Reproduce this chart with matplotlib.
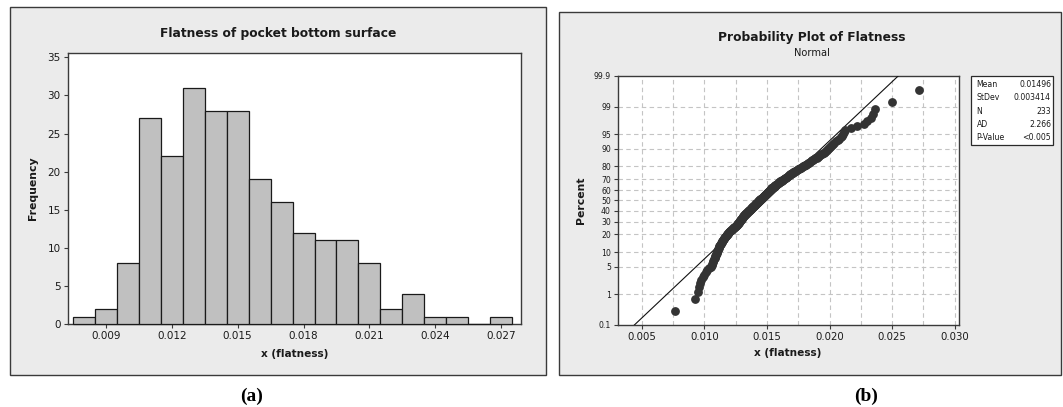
import numpy as np
import matplotlib
matplotlib.use("Agg")
import matplotlib.pyplot as plt
from matplotlib.patches import Rectangle
from matplotlib.ticker import FixedLocator, MultipleLocator
from statistics import NormalDist

# ---------------- data ----------------
# Histogram (a): bin centres and frequencies
bin_centers = [0.008, 0.009, 0.010, 0.011, 0.012, 0.013, 0.014, 0.015, 0.016, 0.017,
               0.018, 0.019, 0.020, 0.021, 0.022, 0.023, 0.024, 0.025, 0.026, 0.027]
frequencies = [1, 2, 8, 27, 22, 31, 28, 28, 19, 16, 12, 11, 11, 8, 2, 4, 1, 1, 0, 1]
bin_width = 0.001
hist_xticks = [0.009, 0.012, 0.015, 0.018, 0.021, 0.024, 0.027]
hist_yticks = [0, 5, 10, 15, 20, 25, 30, 35]

# Probability plot (b): flatness values (sorted)
flatness = [
    0.00764,
    0.00927, 0.00946,
    0.00955, 0.00962, 0.00975, 0.00988, 0.00998, 0.01012, 0.01025, 0.01038,
    0.01052, 0.01058, 0.01064, 0.01069, 0.01073, 0.01078, 0.01082, 0.01086, 0.01089,
    0.01093, 0.01096, 0.01099, 0.01102, 0.01105, 0.01108, 0.01111, 0.01114, 0.01117,
    0.01120, 0.01124, 0.01127, 0.01131, 0.01134, 0.01138, 0.01141, 0.01145, 0.01148,
    0.01152, 0.01156, 0.01160, 0.01164, 0.01168, 0.01172, 0.01176, 0.01180, 0.01184,
    0.01188, 0.01192, 0.01196, 0.01200, 0.01204, 0.01209, 0.01214, 0.01219, 0.01224,
    0.01229, 0.01234, 0.01239, 0.01245,
    0.01252, 0.01255, 0.01258, 0.01261, 0.01264, 0.01267, 0.01270, 0.01273, 0.01276,
    0.01279, 0.01282, 0.01285, 0.01288, 0.01291, 0.01294, 0.01297, 0.01300, 0.01303,
    0.01306, 0.01309, 0.01312, 0.01315, 0.01318, 0.01321, 0.01324, 0.01327, 0.01330,
    0.01334, 0.01338, 0.01342, 0.01346,
    0.01352, 0.01355, 0.01359, 0.01362, 0.01366, 0.01369, 0.01373, 0.01376, 0.01380,
    0.01383, 0.01387, 0.01390, 0.01394, 0.01397, 0.01401, 0.01404, 0.01408, 0.01411,
    0.01415, 0.01418, 0.01422, 0.01425, 0.01429, 0.01432, 0.01436, 0.01439, 0.01443,
    0.01447,
    0.01452, 0.01455, 0.01459, 0.01462, 0.01466, 0.01469, 0.01473, 0.01476, 0.01480,
    0.01483, 0.01487, 0.01490, 0.01494, 0.01497, 0.01501, 0.01504, 0.01508, 0.01511,
    0.01515, 0.01518, 0.01522, 0.01525, 0.01529, 0.01532, 0.01536, 0.01540, 0.01544,
    0.01548,
    0.01553, 0.01558, 0.01563, 0.01568, 0.01573, 0.01578, 0.01583, 0.01588, 0.01593,
    0.01598, 0.01603, 0.01608, 0.01613, 0.01618, 0.01623, 0.01628, 0.01634, 0.01640,
    0.01646,
    0.01652, 0.01658, 0.01664, 0.01670, 0.01676, 0.01682, 0.01688, 0.01694, 0.01700,
    0.01706, 0.01712, 0.01718, 0.01724, 0.01731, 0.01738, 0.01745,
    0.01753, 0.01761, 0.01769, 0.01777, 0.01785, 0.01793, 0.01801, 0.01809, 0.01817,
    0.01825, 0.01833, 0.01842,
    0.01852, 0.01861, 0.01870, 0.01879, 0.01888, 0.01897, 0.01906, 0.01915, 0.01924,
    0.01933, 0.01942,
    0.01953, 0.01961, 0.01969, 0.01977, 0.01985, 0.01993, 0.02001, 0.02009, 0.02017,
    0.02026, 0.02036,
    0.02052, 0.02064, 0.02076, 0.02088, 0.02098, 0.02108, 0.02116, 0.02124,
    0.02168, 0.02219,
    0.02276, 0.02302, 0.02329, 0.02348,
    0.02361,
    0.02502,
    0.02714,
]
fit_mean = 0.01496
fit_stdev = 0.003414
stat_labels = ["Mean", "StDev", "N", "AD", "P-Value"]
stat_values = ["0.01496", "0.003414", "233", "2.266", "<0.005"]
prob_xticks = [0.005, 0.010, 0.015, 0.020, 0.025, 0.030]
prob_yticks = [0.1, 1, 5, 10, 20, 30, 40, 50, 60, 70, 80, 90, 95, 99, 99.9]
prob_yticklabels = ["0.1", "1", "5", "10", "20", "30", "40", "50", "60", "70",
                    "80", "90", "95", "99", "99.9"]

# ---------------- figure ----------------
W, H = 1063, 407
plt.rcParams['font.family'] = ['DejaVu Sans']
fig = plt.figure(figsize=(W / 100, H / 100), dpi=100)
fig.patch.set_facecolor('white')

def fx(x):
    return x / W

def fy(y):
    return 1 - y / H

def frame(x0, y0, x1, y1, fc, ec='#3a3a3a', lw=1.0, z=-5):
    r = Rectangle((fx(x0), fy(y1)), fx(x1) - fx(x0), fy(y0) - fy(y1),
                  transform=fig.transFigure, facecolor=fc, edgecolor=ec,
                  linewidth=lw, zorder=z)
    fig.add_artist(r)

def axes_px(x0, y0, x1, y1):
    return fig.add_axes([fx(x0), fy(y1), fx(x1) - fx(x0), fy(y0) - fy(y1)])

bg = '#EBEBEB'
spine_col = '#3a3a3a'
txt = '#1a1a1a'

frame(10, 7.3, 545.7, 375, bg)
frame(559, 11.7, 1061, 375, bg)

def style_axes(ax, xsize, ysize):
    for s in ax.spines.values():
        s.set_color(spine_col)
        s.set_linewidth(1.0)
    ax.tick_params(axis='both', which='major', direction='out', length=3,
                   width=0.8, color=spine_col, pad=2, labelcolor=txt)
    ax.tick_params(axis='x', labelsize=xsize)
    ax.tick_params(axis='y', labelsize=ysize)
    ax.set_facecolor('white')

# ---------- (a) histogram ----------
ax1 = axes_px(67.7, 52.7, 520.7, 324.3)
bars = ax1.bar(bin_centers, frequencies, width=bin_width, color='#C0C0C0',
               edgecolor='#1a1a1a', linewidth=0.9, zorder=3)
for b in bars:
    b.set_clip_on(False)
ax1.set_xlim(0.00726, 0.02789)
ax1.set_ylim(0, 35.6)
ax1.set_xticks(hist_xticks)
ax1.set_xticklabels([f"{v:.3f}" for v in hist_xticks])
ax1.set_yticks(hist_yticks)
style_axes(ax1, 7.5, 7.5)

fig.text(fx(277.9), fy(34), "Flatness of pocket bottom surface", ha='center',
         va='center', fontsize=8.8, fontweight='bold', color=txt)
fig.text(fx(294.2), fy(354), "x (flatness)", ha='center', va='center',
         fontsize=7.6, fontweight='bold', color=txt)
fig.text(fx(33), fy(188.5), "Frequency", ha='center', va='center',
         rotation=90, fontsize=7.8, fontweight='bold', color=txt)

# ---------- (b) normal probability plot ----------
nd = NormalDist()
_ppf = np.vectorize(nd.inv_cdf, otypes=[float])
_cdf = np.vectorize(nd.cdf, otypes=[float])

def fwd(p):
    p = np.clip(np.asarray(p, dtype=float) / 100.0, 1e-12, 1 - 1e-12)
    return _ppf(p)

def inv(z):
    return _cdf(np.asarray(z, dtype=float)) * 100.0

ax2 = axes_px(617.7, 75.7, 958.7, 325)
ax2.set_yscale('function', functions=(fwd, inv))
ax2.set_ylim(0.1, 99.9)
ax2.set_xlim(0.00308, 0.03032)

n = len(flatness)
xs = np.sort(np.asarray(flatness))
ranks = np.arange(1, n + 1)
pct = (ranks - 0.3) / (n + 0.4) * 100.0

# fitted line from the reported mean/stdev
line_p = np.array([0.1, 99.9])
line_x = fit_mean + fit_stdev * fwd(line_p)
ax2.plot(line_x, line_p, color='#111111', linewidth=0.8, zorder=3)
ax2.plot(xs, pct, linestyle='none', marker='o', markersize=5.3,
         markerfacecolor='#333333', markeredgecolor='#333333', zorder=4)

ax2.yaxis.set_major_locator(FixedLocator(prob_yticks))
ax2.set_yticklabels(prob_yticklabels)
ax2.yaxis.set_minor_locator(FixedLocator([]))
ax2.set_xticks(prob_xticks)
ax2.set_xticklabels([f"{v:.3f}" for v in prob_xticks])
ax2.xaxis.set_minor_locator(MultipleLocator(0.0025))
style_axes(ax2, 7.3, 5.6)
ax2.tick_params(axis='x', which='minor', length=0)

grid_kw = dict(color='#C4C4C4', linewidth=0.8, linestyle=(0, (4, 3)), zorder=1)
for gx in np.arange(0.005, 0.0301, 0.0025):
    ax2.axvline(gx, **grid_kw)
for gy in prob_yticks[1:-1]:
    ax2.axhline(gy, **grid_kw)

fig.text(fx(812), fy(37.3), "Probability Plot of Flatness", ha='center',
         va='center', fontsize=8.8, fontweight='bold', color=txt)
fig.text(fx(812), fy(53.3), "Normal", ha='center', va='center',
         fontsize=7.1, color=txt)
fig.text(fx(788), fy(353.3), "x (flatness)", ha='center', va='center',
         fontsize=7.6, fontweight='bold', color=txt)
fig.text(fx(581), fy(200.7), "Percent", ha='center', va='center',
         rotation=90, fontsize=7.8, fontweight='bold', color=txt)

# statistics box
frame(971, 76, 1053.3, 145.3, 'white', ec='#2a2a2a', lw=0.9, z=5)
row_y = [84.3, 97.7, 111.0, 124.0, 137.3]
for lab, val, yy in zip(stat_labels, stat_values, row_y):
    fig.text(fx(976.5), fy(yy), lab, ha='left', va='center', fontsize=5.6,
             color=txt, zorder=6)
    fig.text(fx(1051.0), fy(yy), val, ha='right', va='center', fontsize=5.6,
             color=txt, zorder=6)

# panel captions
fig.text(fx(251.7), fy(396.5), "(a)", ha='center', va='center', fontsize=14,
         fontweight='bold', family=['Liberation Serif', 'DejaVu Serif'], color='black')
fig.text(fx(866.5), fy(396.5), "(b)", ha='center', va='center', fontsize=14,
         fontweight='bold', family=['Liberation Serif', 'DejaVu Serif'], color='black')

fig.savefig("out.png", dpi=100, facecolor='white')
